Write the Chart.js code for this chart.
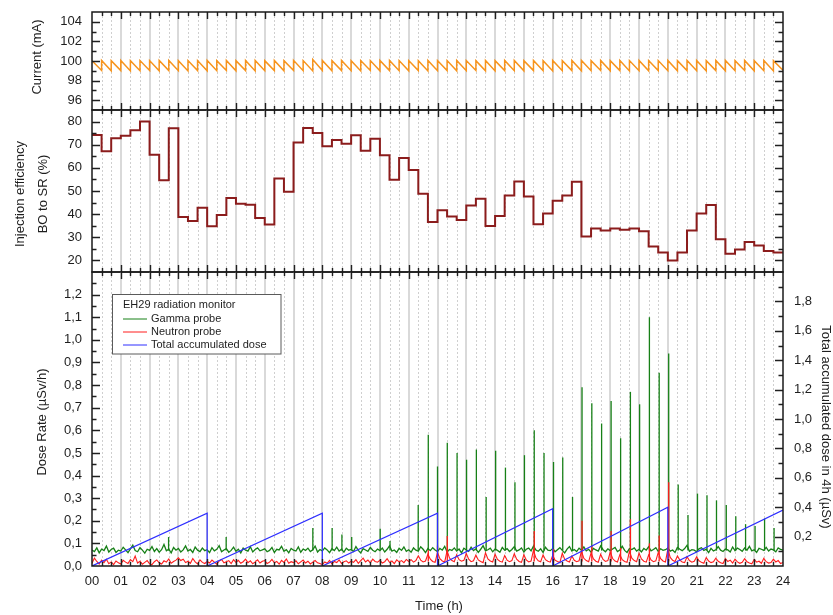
<!DOCTYPE html>
<html>
<head>
<meta charset="utf-8">
<title>Storage ring current, injection efficiency and EH29 dose rates</title>
<script src="https://cdn.jsdelivr.net/npm/chart.js@4.4.1/dist/chart.umd.min.js"></script>
<style>
  html, body { margin: 0; padding: 0; background: #fff; }
  #wrap { position: relative; width: 833px; height: 615px; overflow: hidden; background: #fff; }
  #wrap canvas { position: absolute; left: 0; }
</style>
</head>
<body>
<div id="wrap">
  <canvas id="currentChart" width="833" height="125" style="top:0px"></canvas>
  <canvas id="efficiencyChart" width="833" height="185" style="top:100px"></canvas>
  <canvas id="doseChart" width="833" height="353" style="top:262px"></canvas>
</div>
<script>
// ---------------------------------------------------------------------------
// Time base: one day, top-up injection every 20 minutes, dose logged every 5 min
// ---------------------------------------------------------------------------
const DAY_H = 24;
const CYCLE_H = 1 / 3;
const SAMPLE_H = 5 / 60;

const timeTickLabels = ['00','01','02','03','04','05','06','07','08','09','10','11',
                        '12','13','14','15','16','17','18','19','20','21','22','23','24'];
const currentTicks = [96, 98, 100, 102, 104];
const efficiencyTicks = [20, 30, 40, 50, 60, 70, 80];
const doseRateTicks = [0, 0.1, 0.2, 0.3, 0.4, 0.5, 0.6, 0.7, 0.8, 0.9, 1.0, 1.1, 1.2];
const doseTotalTicks = [0.2, 0.4, 0.6, 0.8, 1.0, 1.2, 1.4, 1.6, 1.8];

// Beam current (mA): value right after each top-up and just before the next one
const currentPeak = [
  100.02,100.05,100.04,100.06,100.03,100.05,100.04,100.06,100.05,100.03,100.05,100.04,
  100.06,100.04,100.05,100.03,100.05,100.06,100.04,100.05,100.03,100.07,100.04,100.15,
  100.05,100.04,100.06,100.03,100.05,100.04,100.06,100.05,100.04,100.05,100.03,100.06,
  100.05,100.04,100.06,100.05,100.03,100.05,100.04,100.06,100.05,100.04,100.05,100.03,
  100.06,100.04,100.05,100.05,100.04,100.06,100.03,100.05,100.04,100.06,100.05,100.04,
  100.05,100.03,100.06,100.05,100.04,100.05,100.06,100.04,100.05,100.03,100.05,100.04
];
const currentTrough = [
  99.03,99.00,99.02,98.99,99.01,99.03,99.00,99.02,99.01,98.99,99.02,99.00,
  99.01,99.03,99.00,99.02,98.99,99.01,99.02,99.00,99.03,99.01,98.99,99.02,
  99.00,99.02,99.01,98.99,99.03,99.00,99.02,99.01,99.00,99.02,98.99,99.01,
  99.02,99.00,99.01,99.03,99.00,98.99,99.02,99.01,99.00,99.02,99.01,98.99,
  99.01,99.02,99.00,99.01,99.03,99.00,99.02,98.99,99.01,99.00,99.02,99.01,
  99.00,99.02,99.01,98.99,99.02,99.00,99.01,99.03,99.00,99.01,98.99,99.05
];

// Injection efficiency booster -> storage ring (%), one value per 20-min cycle
const injectionEfficiency = [
  74.2, 67.2, 72.8, 73.9, 76.2, 80.0, 65.7, 54.6, 77.1, 38.8, 37.0, 42.8,
  34.8, 39.6, 47.0, 44.5, 44.1, 38.3, 35.5, 55.4, 49.7, 71.0, 77.2, 75.1,
  69.3, 72.0, 70.4, 74.1, 67.4, 72.6, 65.4, 54.9, 64.3, 59.1, 48.8, 36.6,
  41.7, 39.0, 37.5, 43.7, 46.6, 34.9, 39.2, 48.1, 54.1, 47.6, 35.6, 40.3,
  45.8, 48.1, 54.0, 30.3, 33.8, 32.9, 33.8, 33.3, 33.8, 32.6, 26.0, 23.4,
  20.0, 23.4, 32.9, 40.3, 43.9, 29.1, 22.9, 24.7, 28.0, 26.4, 24.1, 23.4
];

// EH29 gamma probe dose rate (uSv/h), 5-min samples, 00:00 .. 24:00
const gammaRate = [
  0.071,0.064,0.080,0.058,0.075,0.068,0.088,0.062,0.073,0.079,0.060,0.070,
  0.066,0.083,0.071,0.059,0.076,0.092,0.068,0.063,0.081,0.070,0.057,0.074,
  0.069,0.086,0.064,0.077,0.061,0.072,0.095,0.067,0.074,0.058,0.082,0.070,
  0.078,0.062,0.071,0.089,0.066,0.073,0.060,0.084,0.070,0.064,0.079,0.068,
  0.072,0.059,0.081,0.067,0.074,0.090,0.063,0.071,0.077,0.061,0.069,0.083,
  0.065,0.074,0.058,0.079,0.070,0.066,0.085,0.062,0.073,0.080,0.067,0.071,
  0.076,0.063,0.069,0.082,0.060,0.074,0.071,0.087,0.065,0.072,0.058,0.078,
  0.070,0.066,0.084,0.061,0.075,0.069,0.079,0.064,0.072,0.088,0.062,0.073,
  0.067,0.080,0.071,0.059,0.076,0.068,0.083,0.066,0.074,0.061,0.079,0.070,
  0.073,0.064,0.086,0.069,0.058,0.077,0.071,0.065,0.082,0.070,0.063,0.075,
  0.068,0.079,0.062,0.074,0.089,0.066,0.071,0.060,0.078,0.069,0.084,0.065,
  0.072,0.061,0.080,0.070,0.066,0.085,0.074,0.059,0.077,0.068,0.081,0.071,
  0.064,0.078,0.070,0.087,0.062,0.073,0.069,0.080,0.066,0.075,0.058,0.079,
  0.071,0.065,0.083,0.068,0.076,0.060,0.074,0.090,0.067,0.072,0.079,0.063,
  0.075,0.069,0.061,0.082,0.070,0.077,0.064,0.073,0.086,0.066,0.071,0.080,
  0.062,0.074,0.079,0.067,0.088,0.071,0.065,0.076,0.060,0.083,0.070,0.068,
  0.077,0.063,0.072,0.081,0.069,0.058,0.075,0.086,0.066,0.073,0.064,0.079,
  0.070,0.084,0.067,0.074,0.061,0.078,0.071,0.066,0.089,0.072,0.063,0.076,
  0.068,0.075,0.082,0.064,0.071,0.087,0.069,0.060,0.077,0.073,0.080,0.066,
  0.074,0.062,0.078,0.070,0.085,0.067,0.073,0.081,0.064,0.076,0.069,0.072,
  0.079,0.066,0.071,0.060,0.083,0.074,0.068,0.077,0.091,0.065,0.072,0.070,
  0.063,0.076,0.081,0.069,0.074,0.059,0.078,0.067,0.072,0.086,0.070,0.064,
  0.075,0.071,0.062,0.084,0.068,0.079,0.073,0.065,0.080,0.070,0.087,0.067,
  0.072,0.060,0.078,0.074,0.069,0.082,0.066,0.075,0.071,0.063,0.080,0.073,
  0.070
];

// EH29 neutron probe dose rate (uSv/h), 5-min samples, 00:00 .. 24:00
const neutronRate = [
  0.012,0.035,0.020,0.008,0.026,0.015,0.030,0.010,0.018,0.006,0.022,0.014,
  0.009,0.025,0.017,0.011,0.028,0.019,0.044,0.013,0.021,0.008,0.016,0.024,
  0.010,0.006,0.019,0.027,0.014,0.009,0.023,0.017,0.031,0.012,0.020,0.026,
  0.036,0.024,0.030,0.015,0.021,0.012,0.033,0.018,0.009,0.027,0.016,0.011,
  0.020,0.013,0.026,0.017,0.008,0.022,0.029,0.014,0.019,0.024,0.011,0.028,
  0.016,0.025,0.012,0.019,0.030,0.015,0.023,0.010,0.018,0.027,0.013,0.021,
  0.024,0.011,0.017,0.029,0.014,0.020,0.008,0.025,0.016,0.031,0.012,0.019,
  0.015,0.023,0.010,0.018,0.026,0.013,0.021,0.009,0.017,0.024,0.014,0.011,
  0.006,0.018,0.012,0.025,0.009,0.020,0.015,0.027,0.011,0.019,0.023,0.013,
  0.021,0.016,0.028,0.012,0.024,0.035,0.018,0.026,0.014,0.030,0.020,0.017,
  0.025,0.013,0.019,0.032,0.016,0.022,0.011,0.027,0.018,0.024,0.015,0.029,
  0.020,0.028,0.017,0.024,0.045,0.026,0.018,0.022,0.052,0.030,0.020,0.016,
  0.060,0.032,0.022,0.018,0.068,0.035,0.024,0.019,0.050,0.028,0.021,0.025,
  0.055,0.030,0.019,0.023,0.048,0.027,0.020,0.015,0.058,0.031,0.022,0.018,
  0.052,0.029,0.021,0.017,0.046,0.026,0.019,0.024,0.054,0.030,0.020,0.016,
  0.050,0.027,0.018,0.022,0.070,0.036,0.023,0.019,0.049,0.028,0.021,0.017,
  0.047,0.026,0.020,0.015,0.056,0.030,0.022,0.018,0.044,0.025,0.019,0.023,
  0.065,0.034,0.024,0.019,0.058,0.031,0.021,0.017,0.052,0.029,0.020,0.024,
  0.062,0.033,0.022,0.018,0.050,0.028,0.020,0.016,0.066,0.035,0.024,0.019,
  0.057,0.031,0.021,0.017,0.049,0.027,0.019,0.023,0.060,0.032,0.022,0.018,
  0.075,0.038,0.025,0.020,0.044,0.026,0.018,0.015,0.041,0.024,0.017,0.021,
  0.040,0.023,0.016,0.012,0.037,0.022,0.015,0.019,0.035,0.021,0.014,0.011,
  0.033,0.020,0.026,0.013,0.030,0.018,0.012,0.016,0.032,0.019,0.013,0.010,
  0.029,0.017,0.021,0.012,0.034,0.019,0.013,0.015,0.030,0.018,0.024,0.011,
  0.016
];

// Short gamma bursts at injection (time in h, peak rate in uSv/h)
const gammaSpikeTimes = [
  2.66, 4.66, 7.67, 8.34, 8.68, 9.02, 10.01, 10.35,
  11.33, 11.68, 12.00, 12.34, 12.68, 13.01, 13.35, 13.69, 14.02, 14.36, 14.69, 15.02,
  15.36, 15.70, 16.03, 16.35, 16.69, 17.02, 17.36, 17.70, 18.03, 18.36, 18.70, 19.02,
  19.36, 19.70, 20.03, 20.36, 20.70, 21.03, 21.36, 21.69, 22.03, 22.36, 22.70, 23.03,
  23.36, 23.69
];
const gammaSpikeRates = [
  0.128, 0.128, 0.168, 0.168, 0.139, 0.128, 0.165, 0.110,
  0.27, 0.58, 0.44, 0.545, 0.50, 0.47, 0.515, 0.305, 0.51, 0.435, 0.37, 0.49,
  0.60, 0.50, 0.46, 0.48, 0.305, 0.79, 0.72, 0.63, 0.73, 0.565, 0.77, 0.715,
  1.10, 0.855, 0.94, 0.36, 0.225, 0.32, 0.313, 0.29, 0.27, 0.22, 0.185, 0.177,
  0.21, 0.168
];
// Short neutron bursts at injection
const neutronSpikeTimes = [11.68, 12.00, 12.34, 15.36, 16.03, 17.02, 17.36, 18.03, 18.36, 18.70, 19.36, 19.70, 20.03];
const neutronSpikeRates = [0.070, 0.090, 0.133, 0.155, 0.075, 0.200, 0.090, 0.155, 0.080, 0.207, 0.100, 0.135, 0.370];

// Total dose accumulated over each 4-hour block (uSv)
const doseBlockStart = [0, 4, 8, 12, 16, 20];
const doseBlockTotal = [0.36, 0.36, 0.36, 0.39, 0.40, 0.38];

// ---------------------------------------------------------------------------
// Colours and fonts
// ---------------------------------------------------------------------------
const FONT = '"Liberation Sans", Arial, Helvetica, sans-serif';
const TEXT = '#1e1e1e';
const C_CURRENT = '#f7941d';
const C_EFF = '#8b1c1c';
const C_GAMMA = '#178017';
const C_NEUTRON = '#ff1c1c';
const C_DOSE = '#2e2eff';

Chart.defaults.font.family = FONT;
Chart.defaults.font.size = 13;
Chart.defaults.color = TEXT;

const fmtComma = v => v.toFixed(1).replace('.', ',');

// ---------------------------------------------------------------------------
// Series built from the arrays above
// ---------------------------------------------------------------------------
const currentSeries = [];
currentPeak.forEach((p, k) => {
  currentSeries.push({ x: k * CYCLE_H, y: p });
  currentSeries.push({ x: (k + 1) * CYCLE_H, y: currentTrough[k] });
});

const efficiencySeries = injectionEfficiency.map((v, i) => ({ x: i * CYCLE_H, y: v }));
efficiencySeries.push({ x: DAY_H, y: injectionEfficiency[injectionEfficiency.length - 1] });

const gammaSeries = gammaRate.map((v, i) => ({ x: i * SAMPLE_H, y: v }));
const neutronSeries = neutronRate.map((v, i) => ({ x: i * SAMPLE_H, y: v }));
const gammaBursts = gammaSpikeTimes.map((t, i) => ({ x: t, y: [0.068, gammaSpikeRates[i]] }));
const neutronBursts = neutronSpikeTimes.map((t, i) => ({ x: t, y: [0.02, neutronSpikeRates[i]] }));

const doseSeries = [];
doseBlockStart.forEach((s, i) => {
  doseSeries.push({ x: s, y: 0 });
  doseSeries.push({ x: s + 4, y: doseBlockTotal[i] });
});

// ---------------------------------------------------------------------------
// Panel decoration: time grid, framed axes with inward ticks, axis titles
// ---------------------------------------------------------------------------
function isMultiple(v, step) {
  const r = v / step;
  return Math.abs(r - Math.round(r)) < 1e-6;
}

function panelDecor(cfg) {
  return {
    id: 'panelDecor',
    beforeDatasetsDraw(chart) {
      const { ctx, chartArea: a, scales: { x } } = chart;
      ctx.save();
      const n = Math.round(DAY_H / CYCLE_H);
      for (let i = 1; i < n; i++) {
        const px = Math.round(x.getPixelForValue(i * CYCLE_H));
        ctx.beginPath();
        if (i % 3 === 0) {
          ctx.strokeStyle = '#d9d9d9'; ctx.lineWidth = 2; ctx.setLineDash([]);
          ctx.moveTo(px, a.top); ctx.lineTo(px, a.bottom);
        } else {
          ctx.strokeStyle = '#cfcfcf'; ctx.lineWidth = 1; ctx.setLineDash([2, 2]);
          ctx.moveTo(px + 0.5, a.top); ctx.lineTo(px + 0.5, a.bottom);
        }
        ctx.stroke();
      }
      ctx.restore();
    },
    afterDatasetsDraw(chart) {
      const { ctx, chartArea: a, scales } = chart;
      const x = scales.x;
      ctx.save();
      ctx.setLineDash([]);
      ctx.strokeStyle = '#202020';
      ctx.lineWidth = 1.4;

      // time ticks on top and bottom edges, pointing inward
      const n = Math.round(DAY_H / CYCLE_H);
      ctx.beginPath();
      for (let i = 1; i < n; i++) {
        const px = Math.round(x.getPixelForValue(i * CYCLE_H)) + 0.5;
        const len = i % 3 === 0 ? 7 : 4;
        ctx.moveTo(px, a.top); ctx.lineTo(px, a.top + len);
        ctx.moveTo(px, a.bottom); ctx.lineTo(px, a.bottom - len);
      }
      ctx.stroke();

      // value ticks on left and right edges, pointing inward
      const yTicks = (scale, side, minorStep, majorStep) => {
        ctx.beginPath();
        const first = Math.ceil(scale.min / minorStep - 1e-9);
        const last = Math.floor(scale.max / minorStep + 1e-9);
        for (let k = first; k <= last; k++) {
          const v = k * minorStep;
          if (Math.abs(v - scale.min) < 1e-9 || Math.abs(v - scale.max) < 1e-9) continue;
          const py = Math.round(scale.getPixelForValue(v)) + 0.5;
          const len = isMultiple(v, majorStep) ? 8 : 4.5;
          if (side === 'left') { ctx.moveTo(a.left, py); ctx.lineTo(a.left + len, py); }
          else { ctx.moveTo(a.right, py); ctx.lineTo(a.right - len, py); }
        }
        ctx.stroke();
      };
      yTicks(scales.y, 'left', cfg.minorStep, cfg.majorStep);
      if (cfg.rightScale) yTicks(scales[cfg.rightScale], 'right', cfg.rightMinor, cfg.rightMajor);
      else yTicks(scales.y, 'right', cfg.minorStep, cfg.majorStep);

      // frame
      ctx.lineWidth = 1.5;
      ctx.strokeStyle = '#1a1a1a';
      ctx.strokeRect(a.left, a.top, a.right - a.left, a.bottom - a.top);

      // axis titles (page coordinates shifted into this canvas)
      ctx.translate(0, -cfg.offsetTop);
      ctx.fillStyle = TEXT;
      ctx.font = '13px ' + FONT;
      ctx.textAlign = 'center';
      ctx.textBaseline = 'middle';
      (cfg.leftTitles || []).forEach(t => {
        ctx.save();
        ctx.translate(t.x, t.y);
        ctx.rotate(-Math.PI / 2);
        ctx.fillText(t.text, 0, 0);
        ctx.restore();
      });
      if (cfg.rightTitle) {
        const t = cfg.rightTitle;
        ctx.save();
        ctx.translate(t.x, t.y);
        ctx.rotate(Math.PI / 2);
        ctx.fillText(t.text, 0, 0);
        ctx.restore();
      }
      if (cfg.bottomTitle) {
        ctx.fillText(cfg.bottomTitle.text, cfg.bottomTitle.x, cfg.bottomTitle.y);
      }

      // legend box
      if (cfg.legend) {
        const L = cfg.legend;
        ctx.fillStyle = '#fff';
        ctx.fillRect(L.x, L.y, L.w, L.h);
        ctx.strokeStyle = '#5a5a5a';
        ctx.lineWidth = 1;
        ctx.strokeRect(L.x, L.y, L.w, L.h);
        ctx.font = '11px ' + FONT;
        ctx.fillStyle = TEXT;
        ctx.textAlign = 'left';
        ctx.fillText(L.title, L.x + 10.5, L.y + 10);
        L.items.forEach((it, i) => {
          const yy = L.y + 24 + i * 13.4;
          ctx.strokeStyle = it.color;
          ctx.lineWidth = 1;
          ctx.beginPath();
          ctx.moveTo(L.x + 10.5, Math.round(yy)); ctx.lineTo(L.x + 34.5, Math.round(yy));
          ctx.stroke();
          ctx.fillText(it.label, L.x + 38.5, yy);
        });
      }
      ctx.restore();
    }
  };
}

const baseOptions = () => ({
  responsive: false,
  animation: false,
  devicePixelRatio: 1,
  events: [],
  plugins: { legend: { display: false }, tooltip: { enabled: false } },
  elements: { point: { radius: 0 }, line: { tension: 0 } }
});

// the plot areas are placed by layout padding alone: drop label overhang padding
function noOverhang(s) {
  s.paddingTop = 0; s.paddingBottom = 0; s.paddingLeft = 0; s.paddingRight = 0;
}

const hiddenTimeAxis = {
  type: 'linear', min: 0, max: DAY_H, offset: false, display: false,
  afterFit(s) { noOverhang(s); }
};

const leftAxis = (min, max, ticks, fmt) => ({
  type: 'linear', position: 'left', min, max,
  afterFit(s) { s.width = 92; noOverhang(s); },
  afterBuildTicks(s) { s.ticks = ticks.map(v => ({ value: v })); },
  grid: { display: false, drawTicks: false, tickLength: 0 }, border: { display: false },
  ticks: { padding: 10, color: TEXT, font: { size: 13 }, callback: fmt }
});

// ---------------------------------------------------------------------------
// Panel 1: beam current
// ---------------------------------------------------------------------------
new Chart(document.getElementById('currentChart'), {
  type: 'line',
  data: { datasets: [{
    data: currentSeries, borderColor: C_CURRENT, borderWidth: 1.5, pointRadius: 0
  }] },
  options: Object.assign(baseOptions(), {
    layout: { padding: { top: 12, bottom: 15, left: 0, right: 50 } },
    scales: {
      x: hiddenTimeAxis,
      y: leftAxis(95, 105, currentTicks, v => String(v))
    }
  }),
  plugins: [panelDecor({
    offsetTop: 0, minorStep: 1, majorStep: 2,
    leftTitles: [{ text: 'Current (mA)', x: 37, y: 57 }]
  })]
});

// ---------------------------------------------------------------------------
// Panel 2: injection efficiency
// ---------------------------------------------------------------------------
new Chart(document.getElementById('efficiencyChart'), {
  type: 'line',
  data: { datasets: [{
    data: efficiencySeries, borderColor: C_EFF, borderWidth: 2, stepped: 'before', pointRadius: 0
  }] },
  options: Object.assign(baseOptions(), {
    layout: { padding: { top: 10, bottom: 13, left: 0, right: 50 } },
    scales: {
      x: hiddenTimeAxis,
      y: leftAxis(15, 85, efficiencyTicks, v => String(v))
    }
  }),
  plugins: [panelDecor({
    offsetTop: 100, minorStep: 5, majorStep: 10,
    leftTitles: [
      { text: 'Injection efficiency', x: 20, y: 194 },
      { text: 'BO to SR (%)', x: 43, y: 194 }
    ]
  })]
});

// ---------------------------------------------------------------------------
// Panel 3: EH29 radiation monitor
// ---------------------------------------------------------------------------
new Chart(document.getElementById('doseChart'), {
  type: 'line',
  data: { datasets: [
    { type: 'bar', data: gammaBursts, backgroundColor: C_GAMMA, borderWidth: 0,
      barThickness: 1.3, inflateAmount: 0, grouped: false, yAxisID: 'y', order: 5 },
    { data: gammaSeries, borderColor: C_GAMMA, borderWidth: 1.3, yAxisID: 'y', order: 4 },
    { type: 'bar', data: neutronBursts, backgroundColor: C_NEUTRON, borderWidth: 0,
      barThickness: 1.3, inflateAmount: 0, grouped: false, yAxisID: 'y', order: 3 },
    { data: neutronSeries, borderColor: C_NEUTRON, borderWidth: 1.1, yAxisID: 'y', order: 2 },
    { data: doseSeries, borderColor: C_DOSE, borderWidth: 1.2, yAxisID: 'y2', order: 1 }
  ] },
  options: Object.assign(baseOptions(), {
    layout: { padding: { top: 10, bottom: 0, left: 0, right: 0 } },
    scales: {
      x: {
        type: 'linear', position: 'bottom', min: 0, max: DAY_H, offset: false,
        afterFit(s) { s.height = 49; noOverhang(s); },
        afterBuildTicks(s) { s.ticks = timeTickLabels.map((_, i) => ({ value: i })); },
        grid: { display: false, drawTicks: false, tickLength: 0 }, border: { display: false },
        ticks: { padding: 8, maxRotation: 0, minRotation: 0, autoSkip: false, color: TEXT,
                 font: { size: 13 }, callback: (v, i) => timeTickLabels[i] }
      },
      y: leftAxis(0, 1.3, doseRateTicks, v => fmtComma(v)),
      y2: {
        type: 'linear', position: 'right', min: 0, max: 2.0,
        afterFit(s) { s.width = 50; noOverhang(s); },
        afterBuildTicks(s) { s.ticks = doseTotalTicks.map(v => ({ value: v })); },
        grid: { display: false, drawTicks: false, tickLength: 0 }, border: { display: false },
        ticks: { padding: 11, color: TEXT, font: { size: 13 }, callback: v => fmtComma(v) }
      }
    }
  }),
  plugins: [panelDecor({
    offsetTop: 262, minorStep: 0.05, majorStep: 0.1,
    rightScale: 'y2', rightMinor: 0.1, rightMajor: 0.2,
    leftTitles: [{ text: 'Dose Rate (\u00b5Sv/h)', x: 42, y: 422 }],
    rightTitle: { text: 'Total accumulated dose in 4h (\u00b5Sv)', x: 826, y: 427 },
    bottomTitle: { text: 'Time (h)', x: 439, y: 606 },
    legend: {
      x: 112.5, y: 294.5, w: 168.5, h: 59.5,
      title: 'EH29 radiation monitor',
      items: [
        { label: 'Gamma probe', color: C_GAMMA },
        { label: 'Neutron probe', color: C_NEUTRON },
        { label: 'Total accumulated dose', color: C_DOSE }
      ]
    }
  })]
});
</script>
</body>
</html>
